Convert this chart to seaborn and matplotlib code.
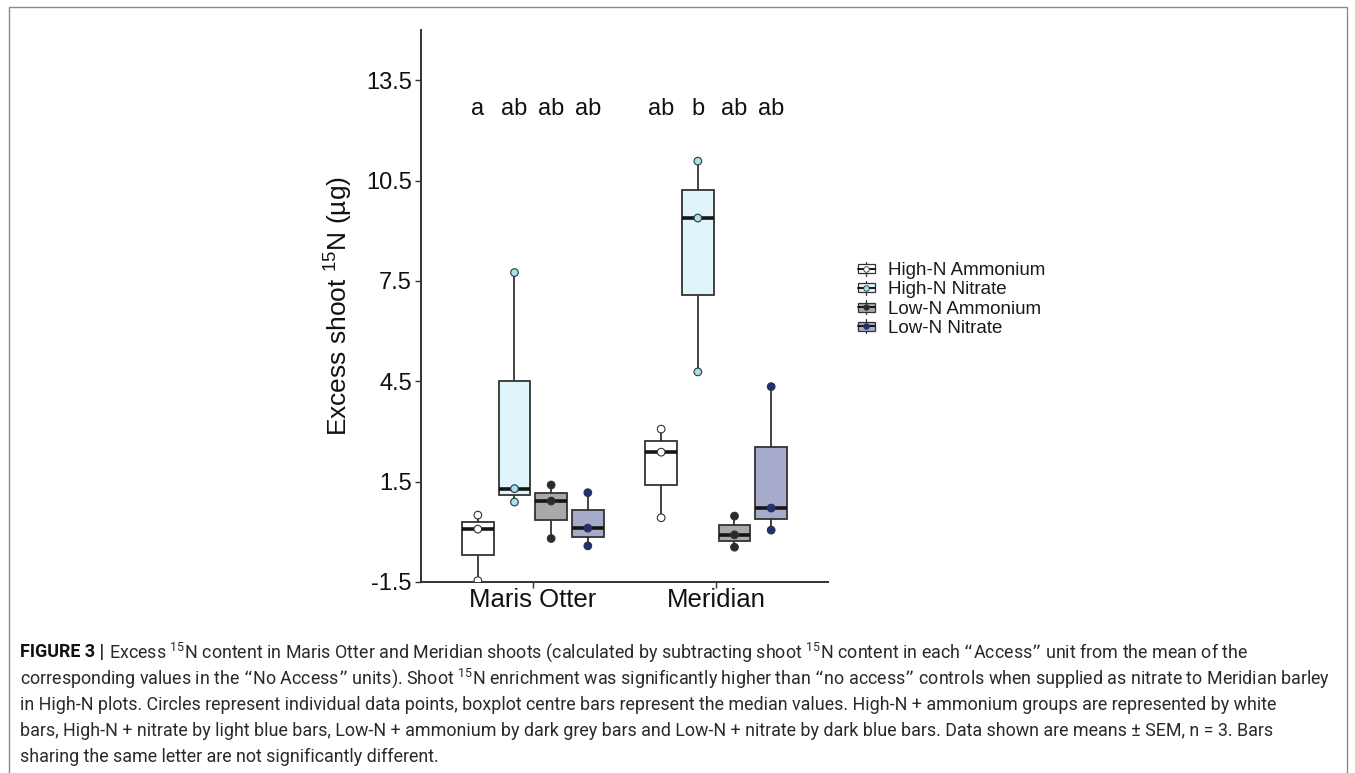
import numpy as np
import pandas as pd
import matplotlib
matplotlib.use("Agg")
import matplotlib.pyplot as plt
from matplotlib import font_manager
from matplotlib.legend_handler import HandlerBase
from matplotlib.patches import Rectangle
from matplotlib.lines import Line2D
import seaborn as sns

sns.set_theme(style="ticks")
plt.rcParams["font.family"] = ["Liberation Sans", "DejaVu Sans"]

# data (3 replicates per group)
cultivars = ["Maris Otter", "Meridian"]
treatments = ["High-N Ammonium", "High-N Nitrate", "Low-N Ammonium", "Low-N Nitrate"]

mo_high_amm = [0.50, 0.08, -1.46]
mo_high_nit = [7.75, 1.29, 0.89]
mo_low_amm = [1.40, 0.92, -0.20]
mo_low_nit = [1.17, 0.11, -0.42]
me_high_amm = [3.07, 2.38, 0.42]
me_high_nit = [11.08, 9.38, 4.78]
me_low_amm = [0.47, -0.09, -0.46]
me_low_nit = [4.34, 0.71, 0.05]

letters = ["a", "ab", "ab", "ab", "ab", "b", "ab", "ab"]
yticks = [-1.5, 1.5, 4.5, 7.5, 10.5, 13.5]

box_colors = ["#FFFFFF", "#DFF4FB", "#A9A9A9", "#A6AACB"]
dot_colors = ["#FFFFFF", "#A6E1EE", "#2A2A2A", "#1F2E80"]
edge = "#333333"

groups = {
    ("Maris Otter", "High-N Ammonium"): mo_high_amm,
    ("Maris Otter", "High-N Nitrate"): mo_high_nit,
    ("Maris Otter", "Low-N Ammonium"): mo_low_amm,
    ("Maris Otter", "Low-N Nitrate"): mo_low_nit,
    ("Meridian", "High-N Ammonium"): me_high_amm,
    ("Meridian", "High-N Nitrate"): me_high_nit,
    ("Meridian", "Low-N Ammonium"): me_low_amm,
    ("Meridian", "Low-N Nitrate"): me_low_nit,
}
rows = []
for (cv, tr), vals in groups.items():
    for v in vals:
        rows.append({"cultivar": cv, "treatment": tr, "value": v})
df = pd.DataFrame(rows)

fig = plt.figure(figsize=(13.55, 7.73), dpi=100)
ax = fig.add_axes([421 / 1355, 1 - 582 / 773, 407 / 1355, 552 / 773])

sns.boxplot(data=df, x="cultivar", y="value", hue="treatment",
            order=cultivars, hue_order=treatments, palette=box_colors,
            saturation=1, width=0.8, gap=0.13, whis=np.inf, showcaps=False,
            linecolor=edge, linewidth=1.3, legend=False,
            medianprops={"color": "#151515", "linewidth": 2.6}, ax=ax)
sns.stripplot(data=df, x="cultivar", y="value", hue="treatment",
              order=cultivars, hue_order=treatments, palette=dot_colors,
              dodge=True, jitter=False, size=5.5, edgecolor=edge,
              linewidth=0.8, legend=False, zorder=4, ax=ax)

# significance letters above each box
centers = []
for p in ax.patches:
    ext = p.get_path().get_extents(p.get_transform() - ax.transData)
    centers.append((ext.x0 + ext.x1) / 2)
centers = sorted(centers)
for cx, lab in zip(centers, letters):
    ax.text(cx, 12.65, lab, ha="center", va="center", fontsize=17,
            color="#111111")

ax.set_xlim(-0.61, 1.61)
ax.set_ylim(-1.5, 15)
ax.set_yticks(yticks)
ax.set_yticklabels([f"{t:.1f}" for t in yticks])
ax.set_xlabel("")
ax.set_ylabel("Excess shoot $^{\\mathregular{15}}$N (µg)", fontsize=19,
              color="#111111")
ax.yaxis.set_label_coords(-0.165, 0.5)
ax.tick_params(axis="y", labelsize=17, length=4, width=1, color=edge,
               labelcolor="#111111", pad=2.5)
ax.tick_params(axis="x", labelsize=18.5, length=4, width=1, color=edge,
               labelcolor="#111111", pad=0.5)
sns.despine(ax=ax)
for s in ["left", "bottom"]:
    ax.spines[s].set_color(edge)
    ax.spines[s].set_linewidth(1.4)


class BoxKey:
    def __init__(self, face, dot):
        self.face = face
        self.dot = dot


class BoxKeyHandler(HandlerBase):
    def create_artists(self, legend, orig_handle, xdescent, ydescent,
                       width, height, fontsize, trans):
        x0, y0 = -xdescent, -ydescent
        cx, cy = x0 + width / 2, y0 + height / 2
        whisk = Line2D([cx, cx], [y0 + 0.02 * height, y0 + 0.98 * height],
                       color=edge, lw=0.9, transform=trans)
        rect = Rectangle((x0 + 0.08 * width, y0 + 0.2 * height),
                         0.84 * width, 0.6 * height, facecolor=orig_handle.face,
                         edgecolor=edge, lw=0.9, transform=trans)
        med = Line2D([x0 + 0.08 * width, x0 + 0.92 * width], [cy, cy],
                     color="#151515", lw=1.4, transform=trans)
        dot = Line2D([cx], [cy], marker="o", ms=4, mfc=orig_handle.dot,
                     mec=edge, mew=0.6, linestyle="none", transform=trans)
        return [whisk, rect, med, dot]


handles = [BoxKey(f, d) for f, d in zip(box_colors, dot_colors)]
fig.legend(handles, treatments, handler_map={BoxKey: BoxKeyHandler()},
           loc="center left", bbox_to_anchor=(856 / 1355, 1 - 299 / 773),
           frameon=False, fontsize=13.5, handlelength=1.1, handleheight=0.85,
           handletextpad=0.62, labelspacing=0.06, borderpad=0,
           borderaxespad=0, labelcolor="#1a1a1a")

# caption box
fig.patches.append(Rectangle((9 / 1355, -0.05), 1338 / 1355, 1 - 7 / 773 + 0.05,
                             transform=fig.transFigure, fill=False,
                             edgecolor="#8a8a8a", lw=1.0))

names = {f.name for f in font_manager.fontManager.ttflist}
cap_font = "Liberation Sans Narrow" if "Liberation Sans Narrow" in names else "Roboto"
sup = "$^{\\mathregular{15}}$"
cap_lines = [
    "Excess " + sup + "N content in Maris Otter and Meridian shoots (calculated by subtracting shoot "
    + sup + "N content in each \u201cAccess\u201d unit from the mean of the",
    "corresponding values in the \u201cNo Access\u201d units). Shoot " + sup
    + "N enrichment was significantly higher than \u201cno access\u201d controls when supplied as nitrate to Meridian barley",
    "in High-N plots. Circles represent individual data points, boxplot centre bars represent the median values. High-N + ammonium groups are represented by white",
    "bars, High-N + nitrate by light blue bars, Low-N + ammonium by dark grey bars and Low-N + nitrate by dark blue bars. Data shown are means \u00b1 SEM, n = 3. Bars",
    "sharing the same letter are not significantly different.",
]
line_y = [652, 678, 705, 731, 757]
x_left = 20 / 1355
base = 12
head = fig.text(x_left, 1 - line_y[0] / 773, "FIGURE 3 |", fontsize=base,
                weight="bold", family=cap_font, va="center", color="#111111")
texts = []
for ln, yy in zip(cap_lines, line_y):
    texts.append(fig.text(x_left, 1 - yy / 773, ln, fontsize=base,
                          family=cap_font, va="center", color="#2a2a2a"))

# fit the longest caption line inside the frame
r = fig.canvas.get_renderer()
w_second = texts[1].get_window_extent(renderer=r).width
size = base * (1330 - 20) / w_second
head.set_fontsize(size)
for t in texts:
    t.set_fontsize(size)
hb = head.get_window_extent(renderer=r)
texts[0].set_x((hb.x1 + 0.28 * size * 100 / 72) / 1355)

fig.savefig("out.png", dpi=100)
